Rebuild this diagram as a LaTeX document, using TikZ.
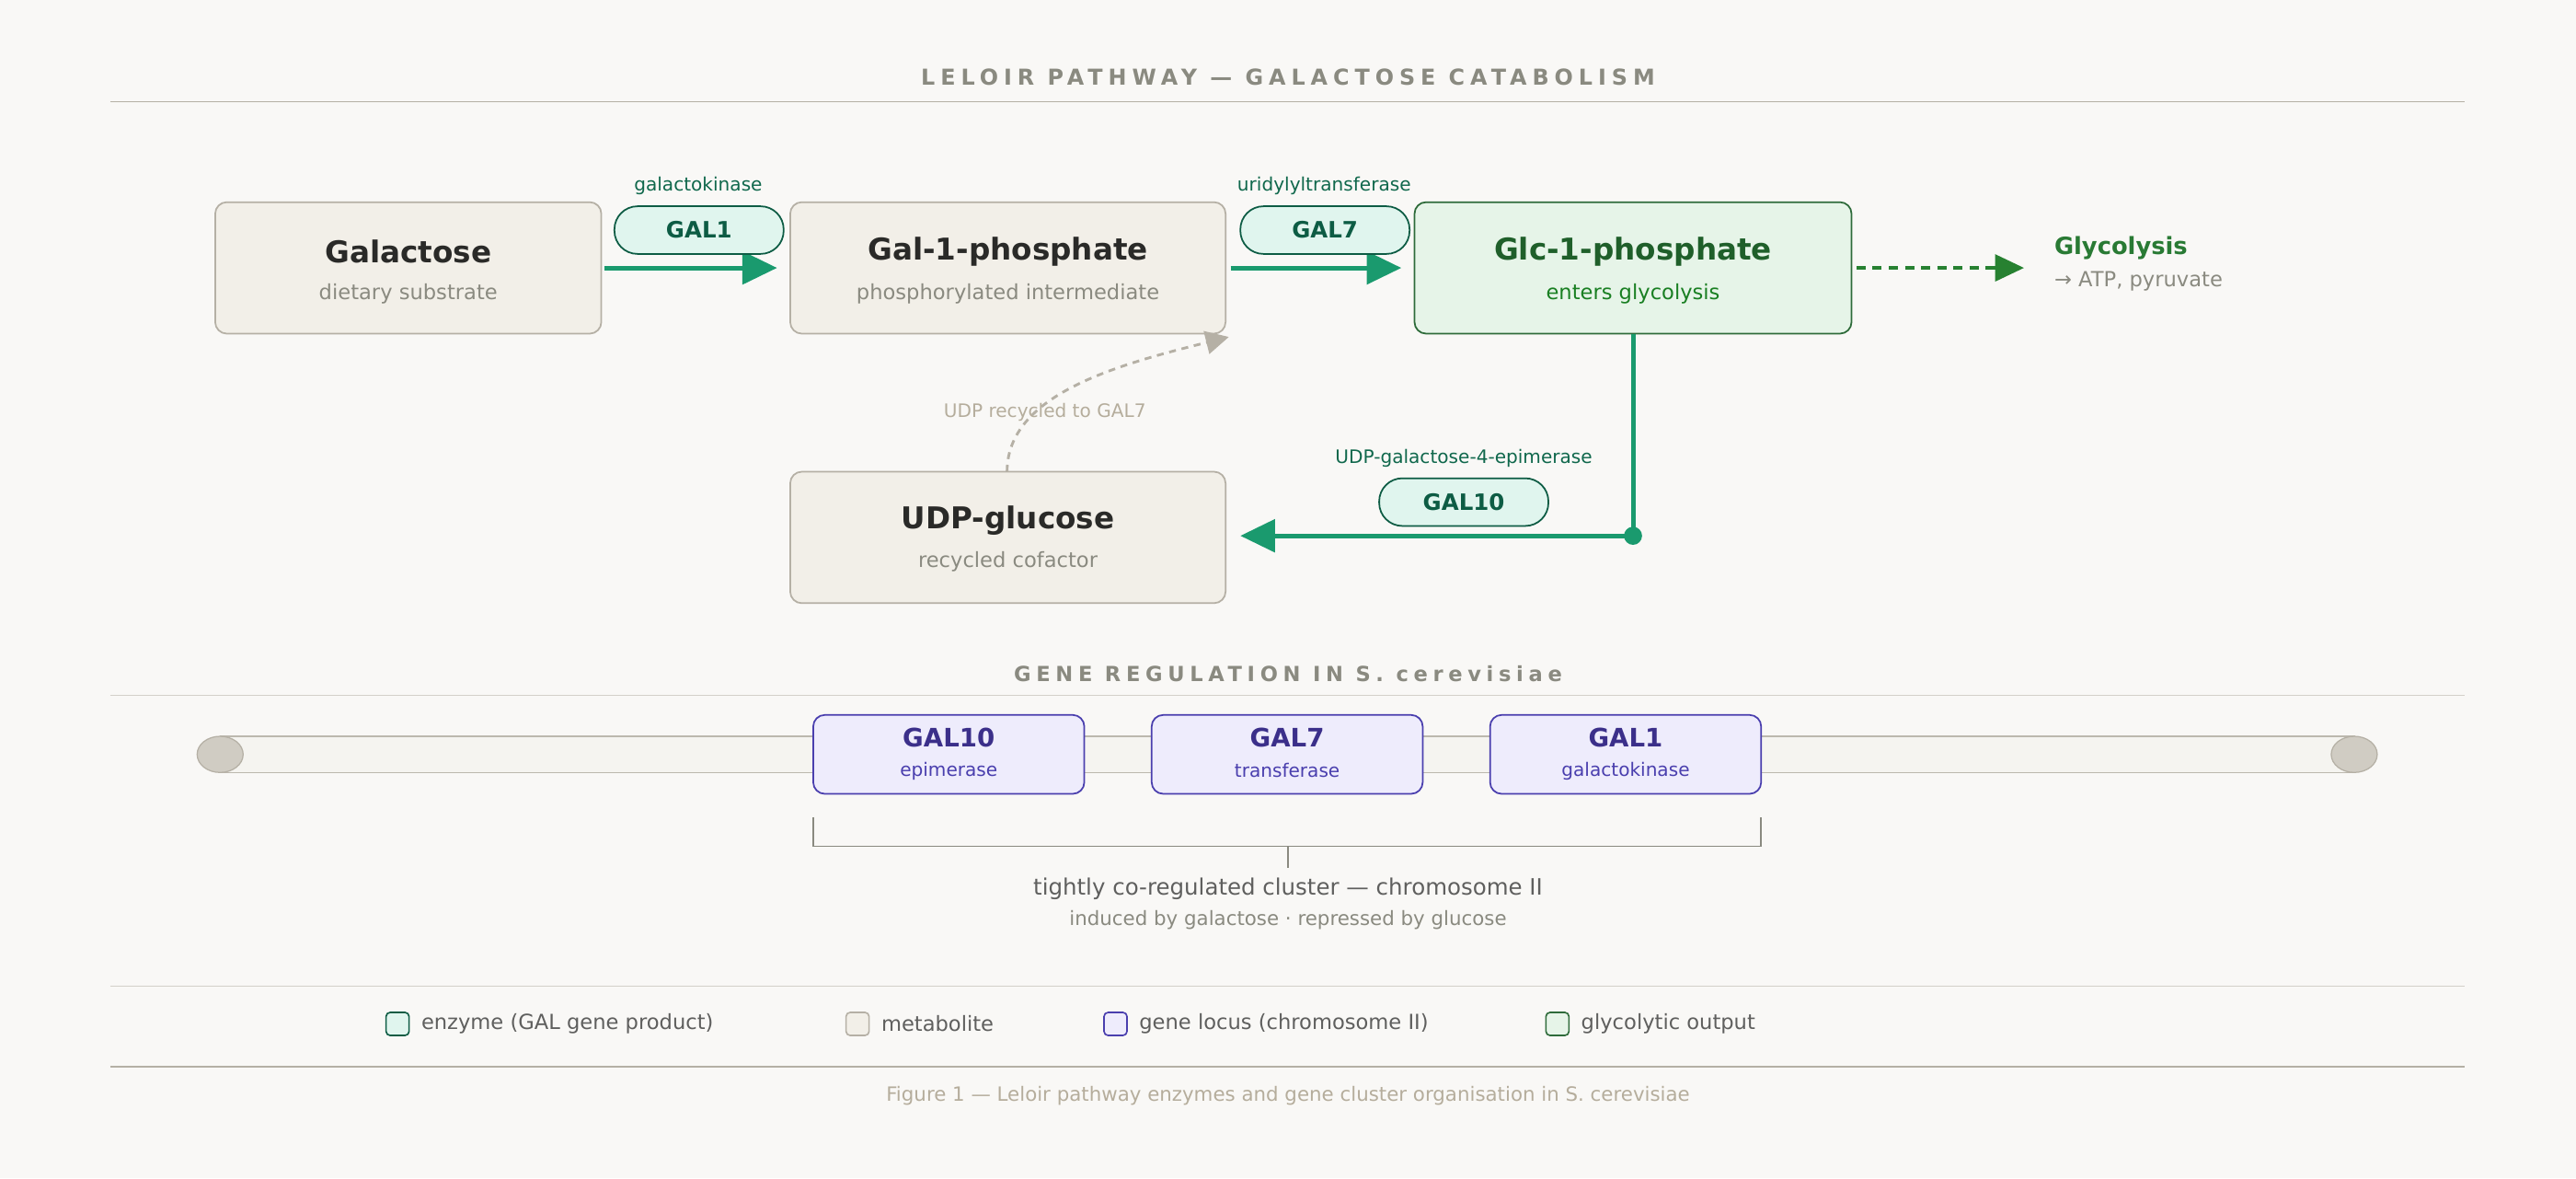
\documentclass[tikz,border=0pt]{standalone}
\usepackage{fontspec}
\setmainfont{DejaVu Sans}
\usetikzlibrary{arrows.meta,positioning}
\definecolor{bgc}{HTML}{F9F8F6}
\definecolor{metaf}{HTML}{F2EFE8}
\definecolor{metad}{HTML}{B5B0A5}
\definecolor{glcf}{HTML}{E6F4E8}
\definecolor{glcd}{HTML}{2E6B3A}
\definecolor{glct}{HTML}{1F5F2A}
\definecolor{enzf}{HTML}{E0F5EE}
\definecolor{enzd}{HTML}{0D5C44}
\definecolor{flow}{HTML}{1A9A6E}
\definecolor{locf}{HTML}{EEECFC}
\definecolor{locd}{HTML}{4A3FAE}
\definecolor{loct}{HTML}{3B2F8A}
\definecolor{greyt}{HTML}{8A8A80}
\definecolor{darkt}{HTML}{2A2A28}
\definecolor{capt}{HTML}{B5AD9C}
\newcommand{\fs}[1]{\fontsize{#1}{#1}\selectfont}
\tikzset{
  metab/.style={draw=metad, fill=metaf, rounded corners=10pt, line width=1.4pt},
  pill/.style={draw=enzd, fill=enzf, rounded corners=20pt, line width=1.4pt, minimum width=103*0.5mm, minimum height=29*0.5mm, inner sep=0pt, font=\fs{19.5}\bfseries, text=enzd},
  flowarr/.style={flow, line width=4pt, -{Triangle[length=30pt,width=28pt]}},
  locus/.style={draw=locd, fill=locf, rounded corners=10pt, line width=1.4pt},
  ttl/.style={font=\fs{26}\bfseries, text=darkt},
  sub/.style={font=\fs{18}, text=greyt},
  small/.style={font=\fs{16}, text=enzd!80!flow},
}
\begin{document}
\begin{tikzpicture}[x=0.5mm, y=-0.5mm]
\useasboundingbox[fill=bgc] (0,0) rectangle (1568,717);

% header
\node[font=\fs{19}\bfseries\addfontfeatures{LetterSpace=25}, text=greyt] (head) at (784,47) {LELOIR PATHWAY — GALACTOSE CATABOLISM};
\draw[metad, line width=1pt] (67,62) -- (1500,62);

% metabolites
\draw[metab] (131,123) rectangle (366,203);
\coordinate (galL) at (131,163); \coordinate (galR) at (366,163);
\node[ttl] at (248.5,153) {Galactose};
\node[sub] at (248.5,179) {dietary substrate};

\draw[metab] (481,123) rectangle (746,203);
\coordinate (g1pL) at (481,163); \coordinate (g1pR) at (746,163);
\node[ttl] at (613.5,153) {Gal-1-phosphate};
\node[sub] at (613.5,179) {phosphorylated intermediate};

\draw[metab, draw=glcd, fill=glcf] (861,123) rectangle (1127,203);
\coordinate (glcL) at (861,163); \coordinate (glcR) at (1127,163); \coordinate (glcB) at (994,203);
\node[ttl, text=glct] at (994,153) {Glc-1-phosphate};
\node[sub, text=glct!80!green] at (994,179) {enters glycolysis};

\draw[metab] (481,287) rectangle (746,367);
\coordinate (udpT) at (613,287); \coordinate (udpR) at (746,326);
\node[ttl] at (613.5,317) {UDP-glucose};
\node[sub] at (613.5,342) {recycled cofactor};

% enzymes
\node[small] at (425,113) {galactokinase};
\draw[flowarr] (368,163) -- (473,163);
\node[pill] (gal1) at (425.5,140) {GAL1};

\node[small] at (806,113) {uridylyltransferase};
\draw[flowarr] (749,163) -- (853,163);
\node[pill] (gal7) at (806.5,140) {GAL7};

\coordinate (turn) at (994,326);
\draw[flow, line width=4pt] (glcB) -- (turn);
\draw[flowarr] (turn) -- (755,326);
\fill[flow] (turn) circle (5.5);
\node[small] at (891,279) {UDP-galactose-4-epimerase};
\node[pill] (gal10) at (891,305.5) {GAL10};

% glycolysis
\coordinate (glyco) at (1232,163);
\draw[glcd!85!green, line width=2.8pt, dash pattern=on 8pt off 6pt, -{Triangle[length=25pt,width=23pt]}] (1130,163) -- (glyco);
\node[anchor=west, font=\fs{20.5}\bfseries, text=glcd!90!green] at (1248,151) {Glycolysis};
\node[anchor=west, sub] at (1248,171) {→ ATP, pyruvate};

% recycle
\draw[metad, line width=2.3pt, dash pattern=on 6pt off 5pt, -{Triangle[length=20pt,width=20pt]}] (udpT) .. controls (613,240) and (680,222) .. (748,205);
\node[font=\fs{16}, text=capt] at (636,251) {UDP recycled to GAL7};

% gene regulation
\node[font=\fs{18}\bfseries\addfontfeatures{LetterSpace=25}, text=greyt] at (784,410) {GENE REGULATION IN S. cerevisiae};
\draw[metad!60, line width=0.8pt] (67,423) -- (1500,423);

\draw[fill=metaf!80!metad!40, draw=metad!90, line width=1pt] (134,448) rectangle (1433,470);
\draw[fill=metad!55!metaf, draw=metad, line width=1pt] (134,459) ellipse (14 and 11);
\draw[fill=metad!55!metaf, draw=metad, line width=1pt] (1433,459) ellipse (14 and 11);

\foreach \x/\nm/\sb in {495/GAL10/epimerase, 701/GAL7/transferase, 907/GAL1/galactokinase} {
  \draw[locus] (\x,435) rectangle ++(165,48);
  \node[font=\fs{22}\bfseries, text=loct] at (\x+82.5,449) {\nm};
  \node[font=\fs{16}, text=locd] at (\x+82.5,469) {\sb};
}

\draw[greyt, line width=1.3pt] (495,497) -- (495,515) -- (1072,515) -- (1072,497);
\draw[greyt, line width=1.3pt] (784,515) -- (784,528);
\node[font=\fs{19.5}, text=darkt!75] at (784,541) {tightly co-regulated cluster — chromosome II};
\node[font=\fs{17}, text=greyt] at (784,560) {induced by galactose · repressed by glucose};

% legend
\draw[metad!60, line width=0.8pt] (67,600) -- (1500,600);
\foreach \x/\fc/\dc/\lb in {242/enzf/enzd/enzyme (GAL gene product), 522/metaf/metad/metabolite, 679/locf/locd/gene locus (chromosome II), 948/glcf/glcd/glycolytic output} {
  \draw[fill=\fc, draw=\dc, rounded corners=3.5pt, line width=1.3pt] (\x-7,616) rectangle (\x+7,630);
  \node[anchor=west, font=\fs{18}, text=darkt!75] at (\x+12,623) {\lb};
}
\draw[metad, line width=1pt] (67,649) -- (1500,649);
\node[font=\fs{17}, text=capt] at (784,667) {Figure 1 — Leloir pathway enzymes and gene cluster organisation in S. cerevisiae};
\end{tikzpicture}
\end{document}
